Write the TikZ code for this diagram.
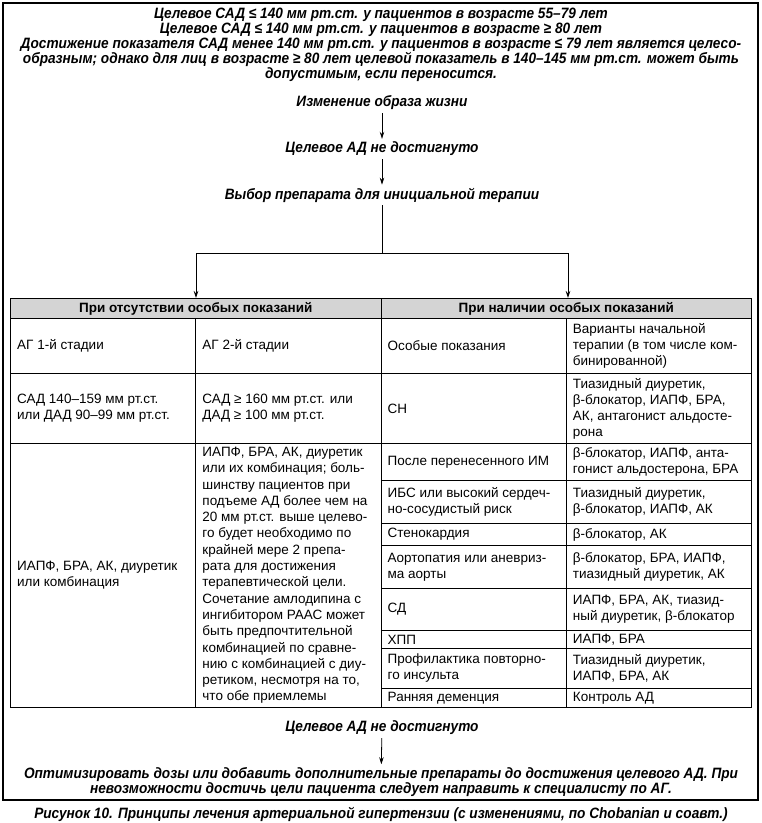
\documentclass[tikz,border=0pt]{standalone}
\usepackage{fontspec}
\setmainfont{Liberation Sans}
\newfontfamily\flowfont[FakeStretch=0.91]{Liberation Sans}
\usetikzlibrary{arrows.meta}
\definecolor{hdrgray}{RGB}{212,212,212}
\begin{document}
\begin{tikzpicture}[x=1pt,y=-1pt,
  flow/.style={font=\flowfont\bfseries\itshape\fontsize{15}{15}\selectfont, align=center, inner xsep=0pt, inner ysep=3pt},
  ct/.style={font=\fontsize{13.5}{16}\selectfont, align=left, anchor=west, inner sep=0pt},
  hdr/.style={draw, line width=0.9pt, fill=hdrgray, anchor=north west, inner sep=0pt, minimum width=370.5pt, minimum height=20pt, font=\bfseries\fontsize{13.5}{16}\selectfont},
  cellbox/.style={draw, line width=0.9pt, anchor=north west, inner sep=0pt, minimum width=185.25pt},
  arr/.style={-{Stealth[length=7pt,width=4.5pt]}, line width=0.8pt},
  conn/.style={line width=0.8pt}]
\useasboundingbox (0,0) rectangle (762,823);
\draw[line width=1.2pt] (3,3) rectangle (758,800);

% flow top
\node[flow] (goal) at (381,45) {Целевое САД ≤ 140 мм рт.ст. у пациентов в возрасте 55–79 лет\\
Целевое САД ≤ 140 мм рт.ст. у пациентов в возрасте ≥ 80 лет\\
Достижение показателя САД менее 140 мм рт.ст. у пациентов в возрасте ≤ 79 лет является целесо-\\
образным; однако для лиц в возрасте ≥ 80 лет целевой показатель в 140–145 мм рт.ст. может быть\\
допустимым, если переносится.};
\node[flow] (life) at (382,103) {Изменение образа жизни};
\node[flow] (nr1) at (382,149) {Целевое АД не достигнуто};
\node[flow] (choice) at (382,195) {Выбор препарата для инициальной терапии};
\draw[arr] (life) -- (nr1);
\draw[arr] (nr1) -- (choice);

% headers
\node[hdr] (hL) at (10,298) {При отсутствии особых показаний};
\node[hdr] (hR) at (380.5,298) {При наличии особых показаний};

\coordinate (bm) at (382,253);
\coordinate (bl) at (196,253);
\coordinate (br) at (568,253);
\draw[conn] (choice.south) -- (bm);
\draw[conn] (bl) -- (br);
\draw[arr] (bl) -- (bl |- hL.north);
\draw[arr] (br) -- (br |- hR.north);

% left table
\node[cellbox, minimum height=55pt] (a1) at (10,318) {};
\node[cellbox, minimum height=55pt] (a2) at (195.25,318) {};
\node[cellbox, minimum height=70pt] (b1) at (10,373) {};
\node[cellbox, minimum height=70pt] (b2) at (195.25,373) {};
\node[cellbox, minimum height=264pt] (c1) at (10,443) {};
\node[cellbox, minimum height=264pt] (c2) at (195.25,443) {};
\node[ct] (ta1) at ([xshift=7pt]a1.west) {АГ 1-й стадии};
\node[ct] (ta2) at ([xshift=7pt]a2.west) {АГ 2-й стадии};
\node[ct] (tb1) at ([xshift=7pt]b1.west) {САД 140–159 мм рт.ст.\\или ДАД 90–99 мм рт.ст.};
\node[ct] (tb2) at ([xshift=7pt]b2.west) {САД ≥ 160 мм рт.ст. или\\ДАД ≥ 100 мм рт.ст.};
\node[ct] (tc1) at ([xshift=7pt]c1.west) {ИАПФ, БРА, АК, диуретик\\или комбинация};
\node[ct, font=\fontsize{13.5}{16.3}\selectfont] (tc2) at ([xshift=7pt]c2.west) {ИАПФ, БРА, АК, диуретик\\
или их комбинация; боль-\\
шинству пациентов при\\
подъеме АД более чем на\\
20 мм рт.ст. выше целево-\\
го будет необходимо по\\
крайней мере 2 препа-\\
рата для достижения\\
терапевтической цели.\\
Сочетание амлодипина с\\
ингибитором РААС может\\
быть предпочтительной\\
комбинацией по сравне-\\
нию с комбинацией с диу-\\
ретиком, несмотря на то,\\
что обе приемлемы};

% right table
\node[cellbox, minimum height=55pt] (r0a) at (380.5,318) {};
\node[cellbox, minimum height=55pt] (r0b) at (565.75,318) {};
\node[cellbox, minimum height=70pt] (r1a) at (380.5,373) {};
\node[cellbox, minimum height=70pt] (r1b) at (565.75,373) {};
\node[cellbox, minimum height=37pt] (r2a) at (380.5,443) {};
\node[cellbox, minimum height=37pt] (r2b) at (565.75,443) {};
\node[cellbox, minimum height=43pt] (r3a) at (380.5,480) {};
\node[cellbox, minimum height=43pt] (r3b) at (565.75,480) {};
\node[cellbox, minimum height=22pt] (r4a) at (380.5,523) {};
\node[cellbox, minimum height=22pt] (r4b) at (565.75,523) {};
\node[cellbox, minimum height=43pt] (r5a) at (380.5,545) {};
\node[cellbox, minimum height=43pt] (r5b) at (565.75,545) {};
\node[cellbox, minimum height=42pt] (r6a) at (380.5,588) {};
\node[cellbox, minimum height=42pt] (r6b) at (565.75,588) {};
\node[cellbox, minimum height=18pt] (r7a) at (380.5,630) {};
\node[cellbox, minimum height=18pt] (r7b) at (565.75,630) {};
\node[cellbox, minimum height=40pt] (r8a) at (380.5,648) {};
\node[cellbox, minimum height=40pt] (r8b) at (565.75,648) {};
\node[cellbox, minimum height=19pt] (r9a) at (380.5,688) {};
\node[cellbox, minimum height=19pt] (r9b) at (565.75,688) {};

\node[ct] (t0a) at ([xshift=7pt]r0a.west) {Особые показания};
\node[ct] (t0b) at ([xshift=7pt]r0b.west) {Варианты начальной\\терапии (в том числе ком-\\бинированной)};
\node[ct] (t1a) at ([xshift=7pt]r1a.west) {СН};
\node[ct] (t1b) at ([xshift=7pt]r1b.west) {Тиазидный диуретик,\\β-блокатор, ИАПФ, БРА,\\АК, антагонист альдосте-\\рона};
\node[ct] (t2a) at ([xshift=7pt]r2a.west) {После перенесенного ИМ};
\node[ct] (t2b) at ([xshift=7pt]r2b.west) {β-блокатор, ИАПФ, анта-\\гонист альдостерона, БРА};
\node[ct] (t3a) at ([xshift=7pt]r3a.west) {ИБС или высокий сердеч-\\но-сосудистый риск};
\node[ct] (t3b) at ([xshift=7pt]r3b.west) {Тиазидный диуретик,\\β-блокатор, ИАПФ, АК};
\node[ct] (t4a) at ([xshift=7pt]r4a.west) {Стенокардия};
\node[ct] (t4b) at ([xshift=7pt]r4b.west) {β-блокатор, АК};
\node[ct] (t5a) at ([xshift=7pt]r5a.west) {Аортопатия или аневриз-\\ма аорты};
\node[ct] (t5b) at ([xshift=7pt]r5b.west) {β-блокатор, БРА, ИАПФ,\\тиазидный диуретик, АК};
\node[ct] (t6a) at ([xshift=7pt]r6a.west) {СД};
\node[ct] (t6b) at ([xshift=7pt]r6b.west) {ИАПФ, БРА, АК, тиазид-\\ный диуретик, β-блокатор};
\node[ct] (t7a) at ([xshift=7pt]r7a.west) {ХПП};
\node[ct] (t7b) at ([xshift=7pt]r7b.west) {ИАПФ, БРА};
\node[ct] (t8a) at ([xshift=7pt]r8a.west) {Профилактика повторно-\\го инсульта};
\node[ct] (t8b) at ([xshift=7pt]r8b.west) {Тиазидный диуретик,\\ИАПФ, БРА, АК};
\node[ct] (t9a) at ([xshift=7pt]r9a.west) {Ранняя деменция};
\node[ct] (t9b) at ([xshift=7pt]r9b.west) {Контроль АД};

% bottom flow
\node[flow] (nr2) at (382,728) {Целевое АД не достигнуто};
\node[flow] (opt) at (381,782) {Оптимизировать дозы или добавить дополнительные препараты до достижения целевого АД. При\\
невозможности достичь цели пациента следует направить к специалисту по АГ.};
\draw[arr] (nr2) -- (opt);
\node[flow] (cap) at (381,814) {Рисунок 10. Принципы лечения артериальной гипертензии (с изменениями, по Chobanian и соавт.)};
\end{tikzpicture}
\end{document}
